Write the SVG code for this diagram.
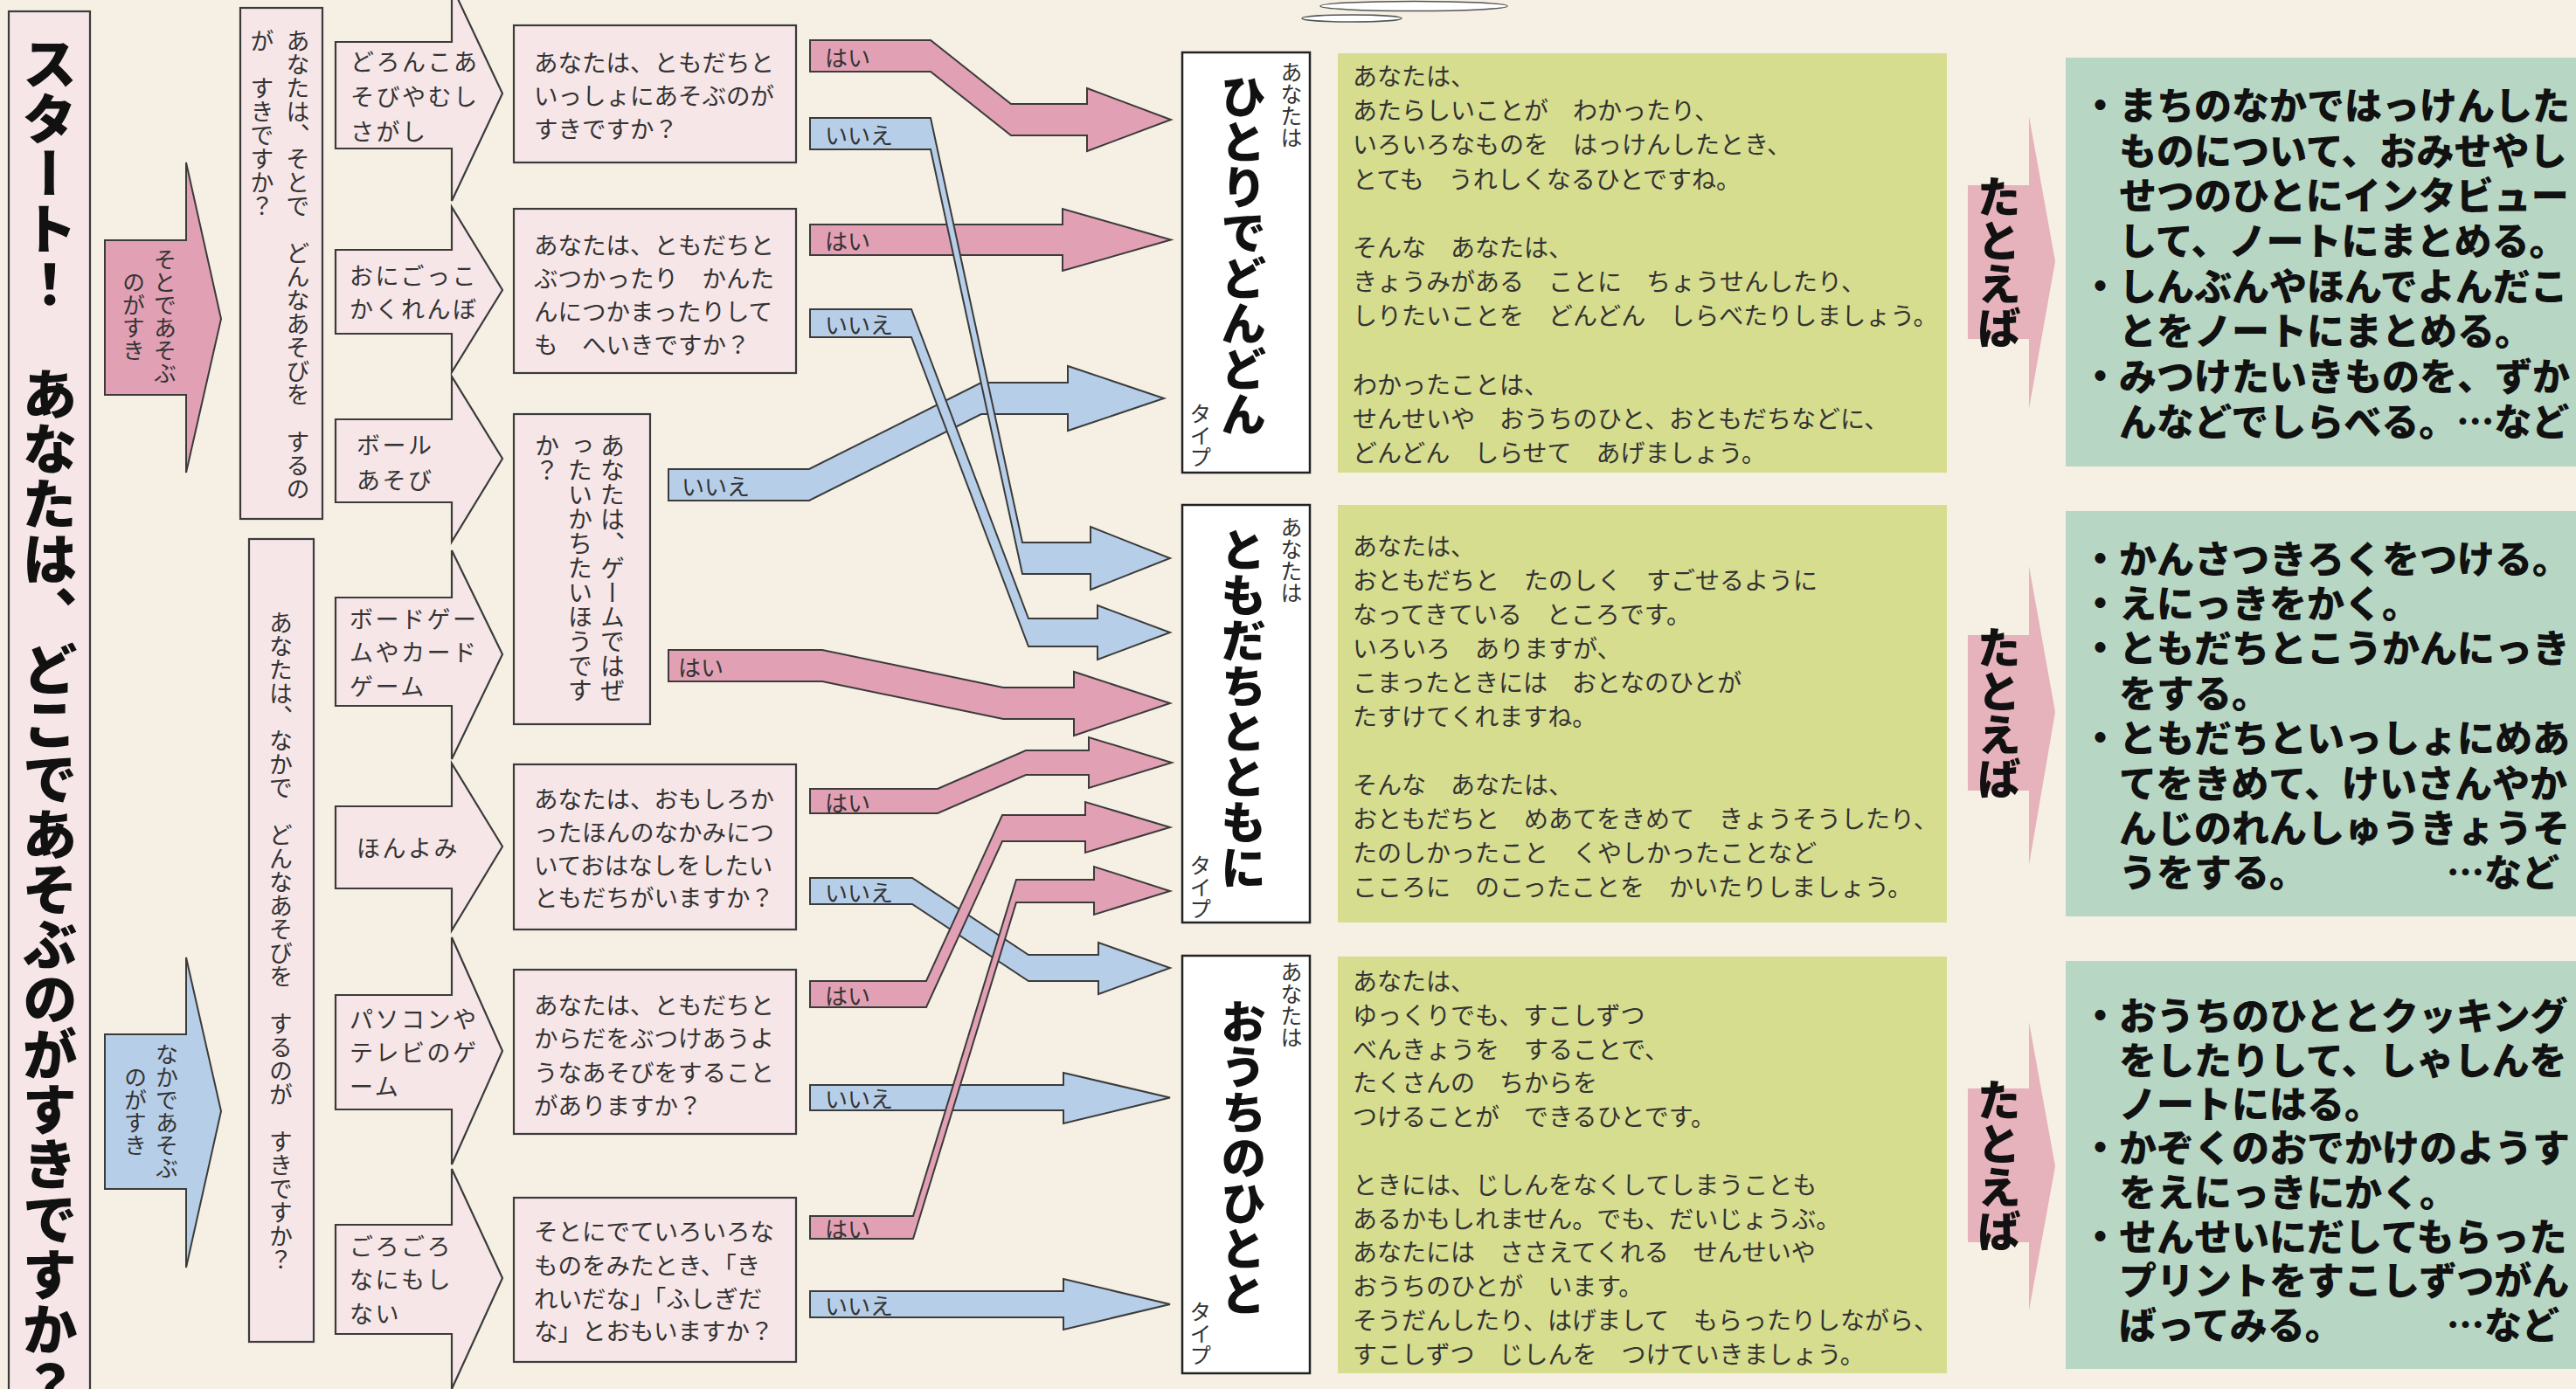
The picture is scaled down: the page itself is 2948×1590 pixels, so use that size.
<svg xmlns="http://www.w3.org/2000/svg" width="2948" height="1590" viewBox="0 0 2948 1590">
<style>
text{font-family:"Noto Sans CJK JP","Noto Sans CJK SC",sans-serif;fill:#333;}
.v{writing-mode:vertical-rl;}
.box{fill:#f6e6e8;stroke:#3b3b3b;stroke-width:2.2;}
.pink{fill:#e2a0b4;stroke:#3b3b3b;stroke-width:2;}
.blue{fill:#b7cee8;stroke:#3b3b3b;stroke-width:2;}
.tbox{fill:#ffffff;stroke:#222;stroke-width:2.5;}
.green{fill:#d6dd8e;}
.teal{fill:#b7d6c3;}
.exa{fill:#e6b2bb;}
.q{font-size:27.5px;}
.act{font-size:27px;letter-spacing:2.5px;}
.lbl{font-size:26px;}
.desc{font-size:28px;}
.big{font-weight:900;fill:#111;}
.ex{font-size:43px;font-weight:900;fill:#111;}
.small{font-size:25px;}
</style>
<rect width="2948" height="1590" fill="#f5f0e3"/>
<g id="deco">
<ellipse cx="1618" cy="7" rx="107" ry="5.5" fill="#fff" stroke="#555" stroke-width="1.5"/>
<ellipse cx="1547" cy="21" rx="57" ry="4" fill="#fff" stroke="#555" stroke-width="1.5"/>
</g>
<g id="start">
<rect class="box" x="10" y="13" width="93" height="1600"/>
<text class="v big" x="57" y="41" font-size="63">スタート！　あなたは、どこであそぶのがすきですか？</text>
</g>
<g id="arrow-soto">
<polygon class="pink" points="120,275 213,275 213,186 253,365 213,541 213,452 120,452"/>
<text class="v" x="189" y="284" font-size="26">そとであそぶ</text>
<text class="v" x="153" y="310" font-size="26">のがすき</text>
</g>
<g id="arrow-naka">
<polygon class="blue" points="120,1184 213,1184 213,1096 253,1272 213,1451 213,1361 120,1361"/>
<text class="v" x="191" y="1194" font-size="26">なかであそぶ</text>
<text class="v" x="155" y="1220" font-size="26">のがすき</text>
</g>
<g id="q-soto">
<rect class="box" x="275" y="9" width="94" height="585"/>
<text class="v" x="341" y="33" font-size="27">あなたは、そとで　どんなあそびを　するの</text>
<text class="v" x="300" y="33" font-size="27">が　すきですか？</text>
</g>
<g id="q-naka">
<rect class="box" x="285" y="617" width="74" height="919"/>
<text class="v" x="321.5" y="699" font-size="27">あなたは、なかで　どんなあそびを　するのが　すきですか？</text>
</g>
<g id="act-1">
<polygon class="box" points="384,48 517,48 517,-16 575,107 517,230 517,170 384,170"/>
<text class="act" dominant-baseline="central"><tspan x="401" y="69">どろんこあ</tspan><tspan x="401" y="109">そびやむし</tspan><tspan x="401" y="149">さがし</tspan></text>
</g>
<g id="act-2">
<polygon class="box" points="384,286 517,286 517,237 575,332 517,426 517,382 384,382"/>
<text class="act" dominant-baseline="central"><tspan x="400" y="314">おにごっこ</tspan><tspan x="400" y="352">かくれんぼ</tspan></text>
</g>
<g id="act-3">
<polygon class="box" points="384,480 517,480 517,431 575,525 517,620 517,575 384,575"/>
<text class="act" dominant-baseline="central"><tspan x="408" y="508">ボール</tspan><tspan x="408" y="548">あそび</tspan></text>
</g>
<g id="act-4">
<polygon class="box" points="384,684 517,684 517,630 575,749 517,869 517,808 384,808"/>
<text class="act" dominant-baseline="central"><tspan x="400" y="707">ボードゲー</tspan><tspan x="400" y="745">ムやカード</tspan><tspan x="400" y="784">ゲーム</tspan></text>
</g>
<g id="act-5">
<polygon class="box" points="384,923 517,923 517,874 575,969 517,1065 517,1017 384,1017"/>
<text class="act" x="408" y="969" dominant-baseline="central">ほんよみ</text>
</g>
<g id="act-6">
<polygon class="box" points="384,1139 517,1139 517,1073 575,1203 517,1333 517,1270 384,1270"/>
<text class="act" dominant-baseline="central"><tspan x="400" y="1165">パソコンや</tspan><tspan x="400" y="1203">テレビのゲ</tspan><tspan x="400" y="1242">ーム</tspan></text>
</g>
<g id="act-7">
<polygon class="box" points="384,1402 517,1402 517,1338 575,1463 517,1590 517,1527 384,1527"/>
<text class="act" dominant-baseline="central"><tspan x="400" y="1425">ごろごろ</tspan><tspan x="400" y="1463">なにもし</tspan><tspan x="400" y="1502">ない</tspan></text>
</g>
<g id="q1">
<rect class="box" x="588" y="29" width="323" height="157"/>
<text class="q" dominant-baseline="central"><tspan x="611" y="70">あなたは、ともだちと</tspan><tspan x="611" y="108">いっしょにあそぶのが</tspan><tspan x="611" y="146">すきですか？</tspan></text>
</g>
<g id="q2">
<rect class="box" x="588" y="239" width="323" height="188"/>
<text class="q" dominant-baseline="central"><tspan x="611" y="279">あなたは、ともだちと</tspan><tspan x="611" y="317">ぶつかったり　かんた</tspan><tspan x="611" y="355">んにつかまったりして</tspan><tspan x="611" y="393">も　へいきですか？</tspan></text>
</g>
<g id="q3">
<rect class="box" x="588" y="474" width="156" height="355"/>
<text class="v" x="701" y="496" font-size="28">あなたは、ゲームではぜ</text>
<text class="v" x="664" y="496" font-size="28">ったいかちたいほうです</text>
<text class="v" x="626" y="496" font-size="28">か？</text>
</g>
<g id="q4">
<rect class="box" x="588" y="875" width="323" height="189"/>
<text class="q" dominant-baseline="central"><tspan x="611" y="913">あなたは、おもしろか</tspan><tspan x="611" y="951">ったほんのなかみにつ</tspan><tspan x="611" y="989">いておはなしをしたい</tspan><tspan x="611" y="1026">ともだちがいますか？</tspan></text>
</g>
<g id="q5">
<rect class="box" x="588" y="1110" width="323" height="188"/>
<text class="q" dominant-baseline="central"><tspan x="611" y="1149">あなたは、ともだちと</tspan><tspan x="611" y="1187">からだをぶつけあうよ</tspan><tspan x="611" y="1226">うなあそびをすること</tspan><tspan x="611" y="1264">がありますか？</tspan></text>
</g>
<g id="q6">
<rect class="box" x="588" y="1371" width="323" height="188"/>
<text class="q" dominant-baseline="central"><tspan x="611" y="1408">そとにでていろいろな</tspan><tspan x="611" y="1447">ものをみたとき、「き</tspan><tspan x="611" y="1485">れいだな」「ふしぎだ</tspan><tspan x="611" y="1522">な」とおもいますか？</tspan></text>
</g>
<g id="connectors">
<polygon class="blue" points="765,537 926,537 1123,438 1222,438 1222,419 1332,456 1222,493 1222,474 1123,474 926,573 765,573"/>
<polygon class="pink" points="927,257 1216,257 1216,239 1340,274.5 1216,310 1216,292 927,292"/>
<polygon class="pink" points="927,46 1065,46 1157,119 1244,119 1244,101 1340,137 1244,173 1244,155 1157,155 1065,82 927,82"/>
<polygon class="blue" points="927,135 1065,135 1170,621 1248,621 1248,603 1339,639 1248,675 1248,657 1170,657 1065,171 927,171"/>
<polygon class="blue" points="927,354 1043,354 1177,708 1256,708 1256,693 1339,724 1256,755 1256,740 1177,740 1043,386 927,386"/>
<polygon class="pink" points="765,744 941,744 1148,787 1229,787 1229,769 1339,805 1229,842 1229,823 1148,823 941,780 765,780"/>
<polygon class="pink" points="927,903 1073,903 1174,859 1246,859 1246,844 1341,873 1246,902 1246,887 1174,887 1073,931 927,931"/>
<polygon class="blue" points="927,1005 1044,1005 1177,1093 1257,1093 1257,1079 1339,1108 1257,1138 1257,1123 1177,1123 1044,1035 927,1035"/>
<polygon class="blue" points="927,1242 1217,1242 1217,1228 1339,1256.5 1217,1286 1217,1271 927,1271"/>
<polygon class="blue" points="927,1478 1217,1478 1217,1464 1339,1493 1217,1522 1217,1508 927,1508"/>
<polygon class="pink" points="927,1123 1060,1123 1147,933 1242,933 1242,918 1339,947 1242,976 1242,963 1147,963 1060,1153 927,1153"/>
<polygon class="pink" points="927,1392 1045,1392 1163,1007 1252,1007 1252,992 1339,1020 1252,1047 1252,1033 1163,1033 1045,1418 927,1418"/>
<g>
<text class="lbl" x="944" y="64" dominant-baseline="central">はい</text>
<text class="lbl" x="944" y="153" dominant-baseline="central">いいえ</text>
<text class="lbl" x="944" y="274.5" dominant-baseline="central">はい</text>
<text class="lbl" x="944" y="370" dominant-baseline="central">いいえ</text>
<text class="lbl" x="780" y="555" dominant-baseline="central">いいえ</text>
<text class="lbl" x="776" y="762" dominant-baseline="central">はい</text>
<text class="lbl" x="944" y="917" dominant-baseline="central">はい</text>
<text class="lbl" x="944" y="1020" dominant-baseline="central">いいえ</text>
<text class="lbl" x="944" y="1138" dominant-baseline="central">はい</text>
<text class="lbl" x="944" y="1405" dominant-baseline="central">はい</text>
<text class="lbl" x="944" y="1256.5" dominant-baseline="central">いいえ</text>
<text class="lbl" x="944" y="1493" dominant-baseline="central">いいえ</text>
</g>
</g>
<g id="type-1">
<rect class="tbox" x="1353" y="60" width="146" height="481"/>
<text class="v small" x="1478" y="70">あなたは</text>
<text class="v big" x="1423" y="84" font-size="52">ひとりでどんどん</text>
<text class="v small" x="1374" y="461">タイプ</text>
</g>
<g id="type-2">
<rect class="tbox" x="1353" y="578" width="146" height="478"/>
<text class="v small" x="1478" y="591">あなたは</text>
<text class="v big" x="1423" y="603" font-size="52">ともだちとともに</text>
<text class="v small" x="1374" y="978">タイプ</text>
</g>
<g id="type-3">
<rect class="tbox" x="1353" y="1094" width="146" height="478"/>
<text class="v small" x="1478" y="1100">あなたは</text>
<text class="v big" x="1423" y="1143" font-size="52">おうちのひとと</text>
<text class="v small" x="1374" y="1489">タイプ</text>
</g>
<g id="desc-1">
<rect class="green" x="1531" y="61" width="697" height="480"/>
<text class="desc" dominant-baseline="central"><tspan x="1548" y="86">あなたは、</tspan><tspan x="1548" y="125">あたらしいことが　わかったり、</tspan><tspan x="1548" y="164">いろいろなものを　はっけんしたとき、</tspan><tspan x="1548" y="204">とても　うれしくなるひとですね。</tspan><tspan x="1548" y="282">そんな　あなたは、</tspan><tspan x="1548" y="321">きょうみがある　ことに　ちょうせんしたり、</tspan><tspan x="1548" y="360">しりたいことを　どんどん　しらべたりしましょう。</tspan><tspan x="1548" y="439">わかったことは、</tspan><tspan x="1548" y="478">せんせいや　おうちのひと、おともだちなどに、</tspan><tspan x="1548" y="517">どんどん　しらせて　あげましょう。</tspan></text>
</g>
<g id="desc-2">
<rect class="green" x="1531" y="578" width="697" height="478"/>
<text class="desc" dominant-baseline="central"><tspan x="1548" y="624">あなたは、</tspan><tspan x="1548" y="663">おともだちと　たのしく　すごせるように</tspan><tspan x="1548" y="702">なってきている　ところです。</tspan><tspan x="1548" y="741">いろいろ　ありますが、</tspan><tspan x="1548" y="780">こまったときには　おとなのひとが</tspan><tspan x="1548" y="819">たすけてくれますね。</tspan><tspan x="1548" y="897">そんな　あなたは、</tspan><tspan x="1548" y="936">おともだちと　めあてをきめて　きょうそうしたり、</tspan><tspan x="1548" y="975">たのしかったこと　くやしかったことなど</tspan><tspan x="1548" y="1014">こころに　のこったことを　かいたりしましょう。</tspan></text>
</g>
<g id="desc-3">
<rect class="green" x="1531" y="1095" width="697" height="477"/>
<text class="desc" dominant-baseline="central"><tspan x="1548" y="1122">あなたは、</tspan><tspan x="1548" y="1161">ゆっくりでも、すこしずつ</tspan><tspan x="1548" y="1200">べんきょうを　することで、</tspan><tspan x="1548" y="1238">たくさんの　ちからを</tspan><tspan x="1548" y="1277">つけることが　できるひとです。</tspan><tspan x="1548" y="1355">ときには、じしんをなくしてしまうことも</tspan><tspan x="1548" y="1394">あるかもしれません。でも、だいじょうぶ。</tspan><tspan x="1548" y="1432">あなたには　ささえてくれる　せんせいや</tspan><tspan x="1548" y="1471">おうちのひとが　います。</tspan><tspan x="1548" y="1510">そうだんしたり、はげまして　もらったりしながら、</tspan><tspan x="1548" y="1549">すこしずつ　じしんを　つけていきましょう。</tspan></text>
</g>
<g id="ex-arrow-1">
<polygon class="exa" points="2252,212 2322,212 2322,133 2352,299 2322,468 2322,388 2252,388"/>
<text class="v big" x="2288" y="200" font-size="50">たとえば</text>
</g>
<g id="ex-arrow-2">
<polygon class="exa" points="2252,727 2322,727 2322,648 2352,815 2322,990 2322,905 2252,905"/>
<text class="v big" x="2288" y="716" font-size="50">たとえば</text>
</g>
<g id="ex-arrow-3">
<polygon class="exa" points="2252,1246 2322,1246 2322,1170 2352,1335 2322,1500 2322,1422 2252,1422"/>
<text class="v big" x="2288" y="1234" font-size="50">たとえば</text>
</g>
<g id="ex-1">
<rect class="teal" x="2364" y="66" width="600" height="468"/>
<text class="ex" dominant-baseline="central"><tspan x="2382" y="118">・まちのなかではっけんした</tspan><tspan x="2425" y="170">ものについて、おみせやし</tspan><tspan x="2425" y="221">せつのひとにインタビュー</tspan><tspan x="2425" y="273">して、ノートにまとめる。</tspan><tspan x="2382" y="325">・しんぶんやほんでよんだこ</tspan><tspan x="2425" y="376">とをノートにまとめる。</tspan><tspan x="2382" y="428">・みつけたいきものを、ずか</tspan><tspan x="2425" y="480">んなどでしらべる。…など</tspan></text>
</g>
<g id="ex-2">
<rect class="teal" x="2364" y="585" width="600" height="464"/>
<text class="ex" dominant-baseline="central"><tspan x="2382" y="637">・かんさつきろくをつける。</tspan><tspan x="2382" y="688">・えにっきをかく。</tspan><tspan x="2382" y="739">・ともだちとこうかんにっき</tspan><tspan x="2425" y="791">をする。</tspan><tspan x="2382" y="842">・ともだちといっしょにめあ</tspan><tspan x="2425" y="894">てをきめて、けいさんやか</tspan><tspan x="2425" y="945">んじのれんしゅうきょうそ</tspan><tspan x="2425" y="996">うをする。</tspan><tspan x="2800" y="996">…など</tspan></text>
</g>
<g id="ex-3">
<rect class="teal" x="2364" y="1100" width="600" height="467"/>
<text class="ex" dominant-baseline="central"><tspan x="2382" y="1160">・おうちのひととクッキング</tspan><tspan x="2425" y="1211">をしたりして、しゃしんを</tspan><tspan x="2425" y="1261">ノートにはる。</tspan><tspan x="2382" y="1311">・かぞくのおでかけのようす</tspan><tspan x="2425" y="1362">をえにっきにかく。</tspan><tspan x="2382" y="1413">・せんせいにだしてもらった</tspan><tspan x="2425" y="1463">プリントをすこしずつがん</tspan><tspan x="2425" y="1514">ばってみる。</tspan><tspan x="2800" y="1514">…など</tspan></text>
</g>
</svg>
